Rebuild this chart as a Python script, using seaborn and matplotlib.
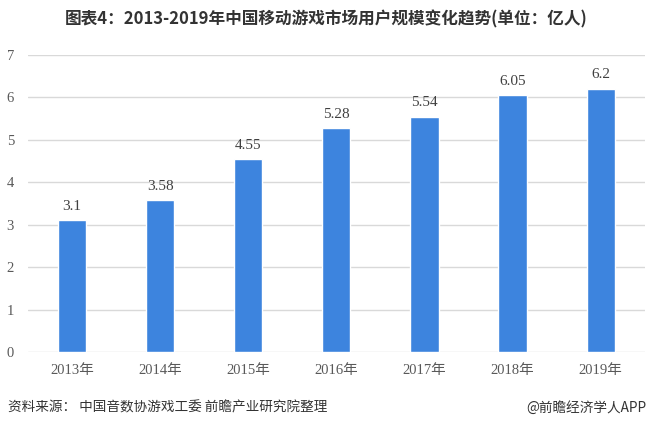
import matplotlib
matplotlib.use("Agg")
import matplotlib.pyplot as plt
import pandas as pd
import seaborn as sns

# data
years = ["2013年", "2014年", "2015年", "2016年", "2017年", "2018年", "2019年"]
users = [3.1, 3.58, 4.55, 5.28, 5.54, 6.05, 6.2]
value_labels = ["3.1", "3.58", "4.55", "5.28", "5.54", "6.05", "6.2"]
y_ticks = [0, 1, 2, 3, 4, 5, 6, 7]

title = "图表4：2013-2019年中国移动游戏市场用户规模变化趋势(单位：亿人)"
source = "资料来源： 中国音数协游戏工委 前瞻产业研究院整理"
brand = "@前瞻经济学人APP"

sns.set_theme(style="white")
plt.rcParams['font.family'] = ['Liberation Serif', 'Noto Sans CJK SC', 'DejaVu Sans']

df = pd.DataFrame({"year": years, "users": users})

fig = plt.figure(figsize=(6.48, 4.29), dpi=100)
ax = fig.add_axes([0.043, 0.1795, 0.952, 0.6925])

sns.barplot(data=df, x="year", y="users", color="#3d84de", saturation=1,
            width=0.32, ax=ax, zorder=3)

ax.set_ylim(0, 7)
ax.set_xlim(-0.5, len(years) - 0.5)
ax.set_yticks(y_ticks)
ax.set_yticklabels([str(t) for t in y_ticks])
ax.yaxis.grid(True, color="#d9d9d9", linewidth=1, zorder=0)
ax.set_axisbelow(True)
for s in ax.spines.values():
    s.set_visible(False)
ax.set_xlabel("")
ax.set_ylabel("")
ax.tick_params(axis="both", length=0, labelsize=10.5, colors="#595959")
ax.tick_params(axis="x", pad=9)
ax.tick_params(axis="y", pad=10)

for i, (v, lab) in enumerate(zip(users, value_labels)):
    ax.annotate(lab, (i, v), xytext=(0, 10), textcoords="offset points",
                ha="center", va="center", fontsize=11, color="#404040")

fig.text(0.503, 0.955, title, ha="center", va="center", fontsize=12,
         fontweight="bold", color="#333333",
         family=['Noto Sans CJK SC', 'DejaVu Sans'])
fig.text(0.012, 0.049, source, ha="left", va="center", fontsize=9.8,
         color="#333333", family=['Noto Sans CJK SC', 'DejaVu Sans'])
fig.text(0.997, 0.049, brand, ha="right", va="center", fontsize=9.8,
         color="#333333", family=['Noto Sans CJK SC', 'DejaVu Sans'])

fig.savefig("out.png", dpi=100)
